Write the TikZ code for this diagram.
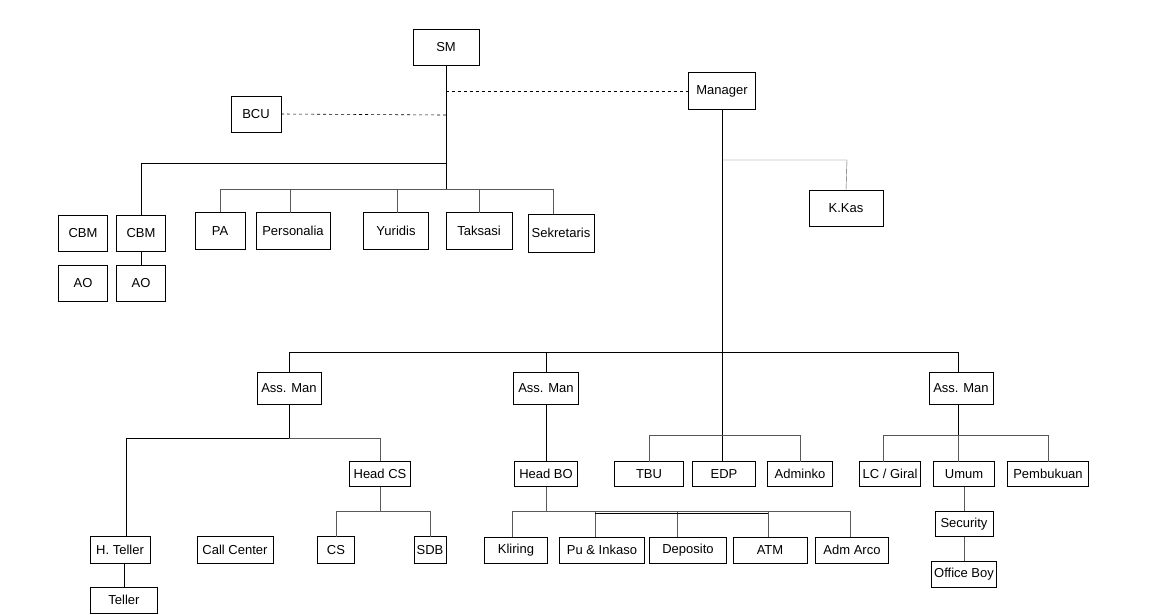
\documentclass[tikz,border=0pt]{standalone}
\usepackage{fontspec}
\setmainfont{Liberation Sans}
\begin{document}
\begin{tikzpicture}[x=1pt,y=-1pt,
 box/.style={draw,thin,fill=white,inner sep=2pt,font=\fontsize{13}{15}\selectfont},
 ln/.style={draw,semithick},
 gl/.style={draw,thin,gray!70!black}]
\useasboundingbox (0,0) rectangle (1168,614);
\newcommand\bx[6]{\node[box,minimum width=#4,minimum height=#5] (#1) at (#2,#3) {#6};}
\bx{SM}{446}{47}{66}{36}{SM}
\bx{Man}{722}{91}{67}{37}{Manager}
\bx{BCU}{256}{114}{50}{36}{BCU}
\bx{CBMa}{83}{233}{49}{36}{CBM}
\bx{CBMb}{141}{233}{49}{36}{CBM}
\bx{AOa}{83}{283}{49}{36}{AO}
\bx{AOb}{141}{283}{49}{36}{AO}
\bx{PA}{220}{231}{50}{37}{PA}
\bx{Pers}{293}{231}{74}{37}{Personalia}
\bx{Yur}{396}{231}{65}{37}{Yuridis}
\bx{Tak}{479}{231}{66}{37}{Taksasi}
\bx{Sek}{561}{233}{66}{38}{Sekretaris}
\bx{KK}{846}{208}{74}{36}{K.Kas}
\bx{AM1}{289}{388}{64}{32}{Ass. Man}
\bx{AM2}{546}{388}{65}{32}{Ass. Man}
\bx{AM3}{961}{388}{64}{32}{Ass. Man}
\bx{TBU}{649}{474}{69}{25}{TBU}
\bx{EDP}{724}{474}{63}{25}{EDP}
\bx{Adm}{800}{474}{65}{25}{Adminko}
\bx{HCS}{380}{474}{61}{25}{Head CS}
\bx{HBO}{546}{474}{63}{25}{Head BO}
\bx{LC}{890}{474}{61}{25}{LC / Giral}
\bx{Um}{964}{474}{61}{25}{Umum}
\bx{Pem}{1048}{474}{81}{25}{Pembukuan}
\bx{Sec}{964}{524}{58}{25}{Security}
\bx{OB}{964}{574}{65}{26}{Office Boy}
\bx{HT}{120}{550}{60}{27}{H. Teller}
\bx{CC}{235}{550}{76}{27}{Call Center}
\bx{CS}{336}{550}{37}{27}{CS}
\bx{SDB}{430}{550}{32}{27}{SDB}
\bx{Tel}{124}{600}{67}{26}{Teller}
\bx{Kli}{516}{550}{63}{26}{Kliring}
\bx{Pu}{602}{550}{85}{26}{Pu \& Inkaso}
\bx{Dep}{688}{550}{77}{26}{Deposito}
\bx{ATM}{770}{550}{74}{26}{ATM}
\bx{AA}{852}{550}{73}{26}{Adm Arco}
% top
\draw[semithick,dashed] (BCU.east) -- (446,115);
\draw[semithick,dashed] (446,91) -- (Man.west);
\draw[ln] (SM.south) -- (446,189);
\draw[ln] (446,163) -- (141,163) -- (CBMb.north);
\draw[ln] (CBMb.south) -- (AOb.north);
\draw[gl] (PA.north) -- (220,189) -- (553,189) -- (553,214);
\foreach \x in {290,397,479}{\draw[gl] (\x,189) -- (\x,212.5);}
\draw[ln] (Man.south) -- (722,461.5);
\draw[gl] (722,160) -- (847,160) -- (KK.north);
\draw[ln] (289,352) -- (958,352);
\draw[ln] (289,352) -- (AM1.north);
\draw[ln] (546,352) -- (AM2.north);
\draw[ln] (958,352) -- (958,372);
\draw[ln] (AM1.south) -- (289,438) -- (126,438) -- (126,536.5);
\draw[gl] (289,438) -- (380,438) -- (HCS.north);
\draw[ln] (124,563.5) -- (Tel.north);
\draw[gl] (HCS.south) -- (380,511);
\draw[gl] (336,536.5) -- (336,511) -- (430,511) -- (430,536.5);
\draw[ln] (AM2.south) -- (HBO.north);
\draw[gl] (HBO.south) -- (546,511);
\draw[gl] (512,537) -- (512,511) -- (850,511) -- (850,537);
\foreach \x in {595,677,768}{\draw[gl] (\x,511) -- (\x,537);}
\draw[ln] (595,513) -- (768,513);
\draw[gl] (649,461.5) -- (649,435) -- (800,435) -- (800,461.5);
\draw[ln] (958,404) -- (958,435);
\draw[gl] (883,461.5) -- (883,435) -- (1048,435) -- (1048,461.5);
\draw[gl] (958,435) -- (958,461.5);
\draw[gl] (Um.south) -- (Sec.north);
\draw[gl] (Sec.south) -- (OB.north);
\end{tikzpicture}
\end{document}
